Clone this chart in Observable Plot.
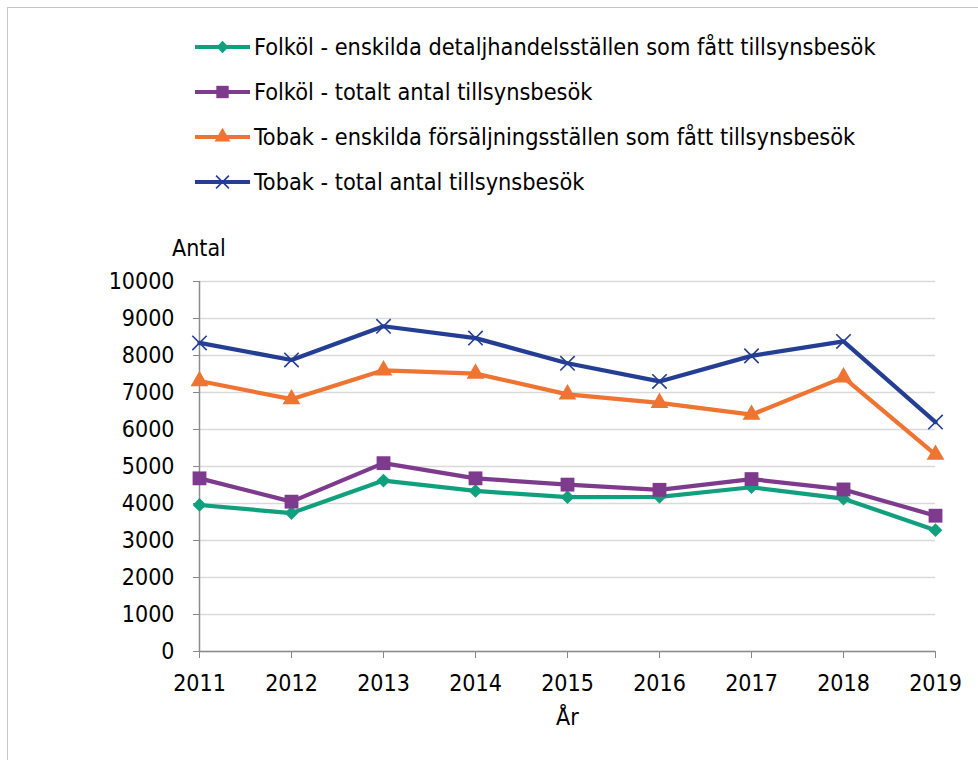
<!DOCTYPE html>
<html><head><meta charset="utf-8">
<script src="https://cdn.jsdelivr.net/npm/d3@7"></script>
<script src="https://cdn.jsdelivr.net/npm/@observablehq/plot@0.6"></script>
<style>
body{margin:0;background:#fff;}
#wrap{position:relative;width:978px;height:760px;overflow:hidden;font-family:"DejaVu Sans Condensed","DejaVu Sans",sans-serif;font-stretch:condensed;color:#000;}
#frame{position:absolute;left:7px;top:7px;width:1100px;height:1100px;border:1.5px solid #c6c6c6;}
#legend{position:absolute;left:194px;top:24px;}
.row{display:flex;align-items:center;height:45px;font-size:23.3px;}
.row svg{margin-right:3px;}
#chart{position:absolute;left:-1px;top:229px;}
.lab{position:absolute;font-size:23px;}
</style></head>
<body><div id="wrap"><div id="frame"></div><div id="legend"></div><div id="chart"></div>
<div class="lab" id="ylab" style="left:172px;top:235px;">Antal</div>
<div class="lab" id="xlab" style="left:556px;top:704px;">År</div>
</div>
<script>
const years = [2011, 2012, 2013, 2014, 2015, 2016, 2017, 2018, 2019];
const seriesNames = [
  "Folköl - enskilda detaljhandelsställen som fått tillsynsbesök",
  "Folköl - totalt antal tillsynsbesök",
  "Tobak - enskilda försäljningsställen som fått tillsynsbesök",
  "Tobak - total antal tillsynsbesök"
];
const folkolEnskilda = [3960, 3740, 4620, 4340, 4170, 4180, 4440, 4130, 3280];
const folkolTotalt   = [4680, 4050, 5090, 4680, 4510, 4370, 4660, 4380, 3670];
const tobakEnskilda  = [7310, 6820, 7600, 7510, 6950, 6720, 6400, 7410, 5320];
const tobakTotalt    = [8340, 7880, 8790, 8470, 7790, 7300, 7990, 8380, 6200];
const yTicks = [0, 1000, 2000, 3000, 4000, 5000, 6000, 7000, 8000, 9000, 10000];
const colors = ["#11a07e", "#7e3b8d", "#ef7331", "#233e93"];
const symbols = ["diamond2", "square", "triangle", "times"];
const radii = [6.2, 7.8, 6.6, 6.6];

const allValues = [folkolEnskilda, folkolTotalt, tobakEnskilda, tobakTotalt];
const data = [];
allValues.forEach((vals, i) => vals.forEach((v, j) => data.push({series: seriesNames[i], year: years[j], value: v})));

const font = '"DejaVu Sans Condensed","DejaVu Sans",sans-serif';
const marks = [
  Plot.gridY(yTicks, {stroke: "#d9d9d9", strokeOpacity: 1, strokeWidth: 1.5}),
  Plot.axisY(yTicks, {tickSize: 6, tickPadding: 19, label: null, stroke: "#888", tickFormat: d3.format("d"), fontSize: 23}),
  Plot.axisX(years, {tickSize: 7, tickPadding: 16, label: null, tickFormat: d3.format("d"), stroke: "#888", fontSize: 23}),
  Plot.ruleY([0], {stroke: "#8c8c8c", strokeWidth: 1.5}),
  Plot.ruleX([2011], {stroke: "#8c8c8c", strokeWidth: 1.5})
];
seriesNames.forEach((name, i) => {
  const d = data.filter(r => r.series === name);
  marks.push(Plot.line(d, {x: "year", y: "value", stroke: colors[i], strokeWidth: 4.2}));
});
seriesNames.forEach((name, i) => {
  const d = data.filter(r => r.series === name);
  if (symbols[i] === "times") {
    marks.push(Plot.dot(d, {x: "year", y: "value", symbol: "times", r: radii[i], stroke: colors[i], strokeWidth: 1.6}));
  } else {
    marks.push(Plot.dot(d, {x: "year", y: "value", symbol: symbols[i], r: radii[i], fill: colors[i], stroke: "none"}));
  }
});

const chart = Plot.plot({
  width: 978, height: 531,
  marginTop: 52, marginBottom: 109, marginLeft: 200, marginRight: 42,
  style: {fontFamily: font, fontSize: "23px", color: "#000", background: "transparent"},
  x: {type: "linear", domain: [2011, 2019]},
  y: {domain: [0, 10000]},
  marks
});
document.getElementById("chart").appendChild(chart);

// legend
const legend = document.getElementById("legend");
const symPaths = symbols.map((s, i) => {
  const map = {diamond2: d3.symbolDiamond2, square: d3.symbolSquare, triangle: d3.symbolTriangle, times: d3.symbolTimes};
  return d3.symbol(map[s], Math.PI * radii[i] * radii[i] * 0.8)();
});
seriesNames.forEach((name, i) => {
  const row = document.createElement("div");
  row.className = "row";
  const isTimes = symbols[i] === "times";
  row.innerHTML = `<svg width="57" height="20"><line x1="1" x2="56" y1="10" y2="10" stroke="${colors[i]}" stroke-width="4.2"/>` +
    `<path transform="translate(28.5,10)" d="${symPaths[i]}" ${isTimes ? `fill="none" stroke="${colors[i]}" stroke-width="1.6"` : `fill="${colors[i]}"`}/></svg><span>${name}</span>`;
  legend.appendChild(row);
});
</script></body></html>
